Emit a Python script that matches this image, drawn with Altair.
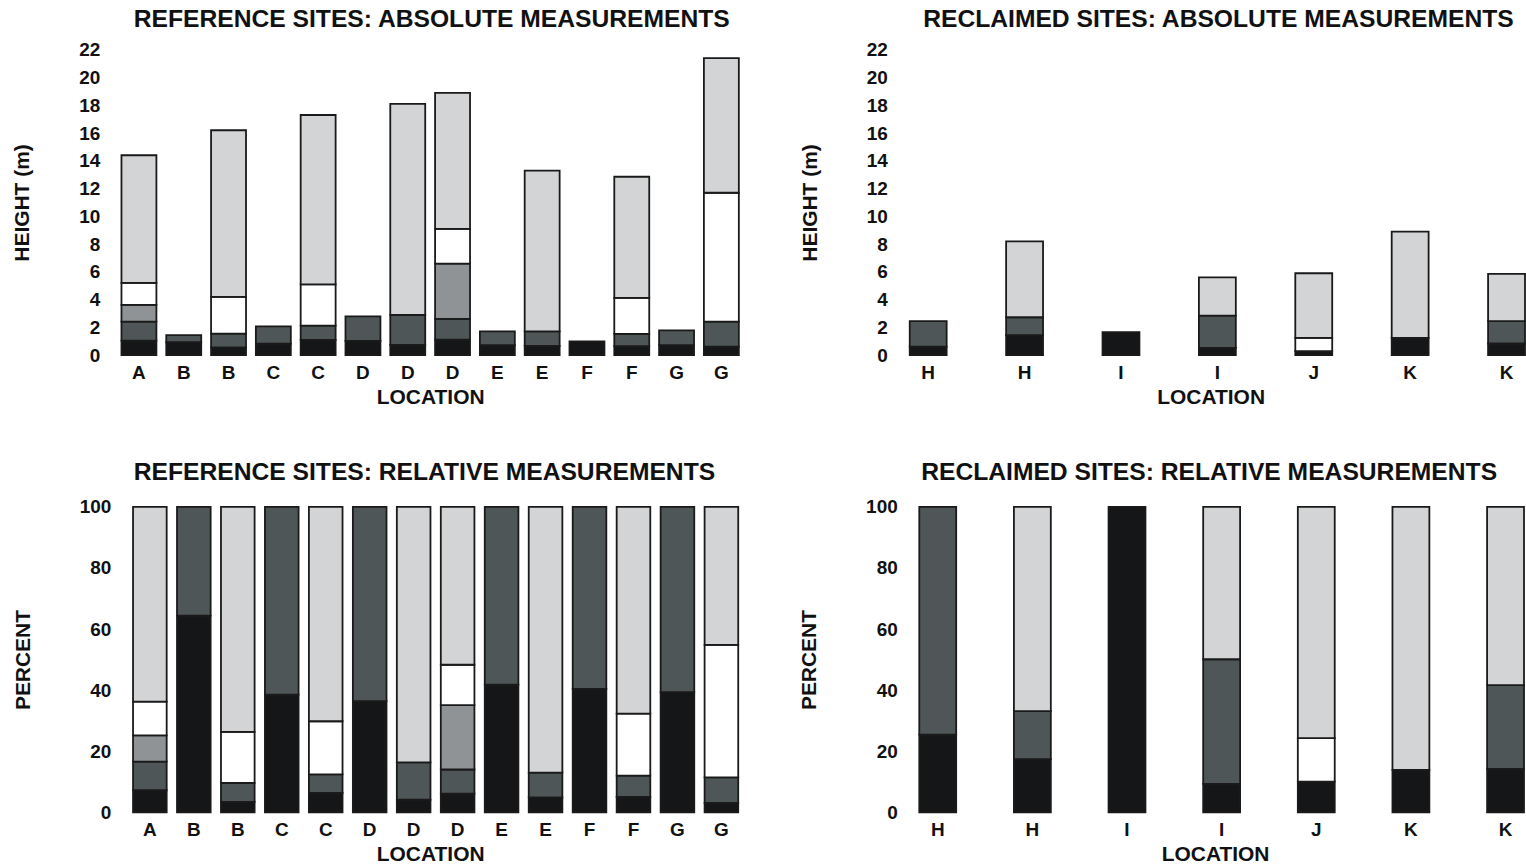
import altair as alt
import pandas as pd

# ---- data -------------------------------------------------------------
LAYERS = ["layer1", "layer2", "layer3", "layer4", "layer5"]

ref_labels = ["A", "B", "B", "C", "C", "D", "D", "D", "E", "E", "F", "F", "G", "G"]
rec_labels = ["H", "H", "I", "I", "J", "K", "K"]

# absolute heights (m) of each stratum, bottom to top
ref_abs_l1 = [1.05, 0.93, 0.56, 0.82, 1.10, 1.02, 0.73, 1.12, 0.72, 0.67, 0.99, 0.65, 0.72, 0.62]
ref_abs_l2 = [1.37, 0.52, 0.99, 1.25, 1.02, 1.78, 2.17, 1.50, 0.99, 1.04, 0.00, 0.88, 1.06, 1.80]
ref_abs_l3 = [1.20, 0.00, 0.00, 0.00, 0.00, 0.00, 0.00, 3.98, 0.00, 0.00, 0.00, 0.00, 0.00, 0.00]
ref_abs_l4 = [1.58, 0.00, 2.65, 0.00, 2.98, 0.00, 0.00, 2.50, 0.00, 0.00, 0.00, 2.59, 0.00, 9.28]
ref_abs_l5 = [9.20, 0.00, 12.00, 0.00, 12.20, 0.00, 15.20, 9.80, 0.00, 11.59, 0.00, 8.73, 0.00, 9.70]

# relative share (%) of each stratum
ref_rel_l1 = [7.2, 64.4, 3.4, 38.5, 6.3, 36.4, 4.1, 6.1, 41.8, 4.9, 40.4, 5.0, 39.3, 3.1]
ref_rel_l2 = [9.4, 35.6, 6.2, 61.5, 6.1, 63.6, 12.2, 7.9, 58.2, 8.1, 59.6, 7.0, 60.7, 8.3]
ref_rel_l3 = [8.6, 0.0, 0.0, 0.0, 0.0, 0.0, 0.0, 21.1, 0.0, 0.0, 0.0, 0.0, 0.0, 0.0]
ref_rel_l4 = [11.0, 0.0, 16.7, 0.0, 17.4, 0.0, 0.0, 13.2, 0.0, 0.0, 0.0, 20.3, 0.0, 43.4]
ref_rel_l5 = [63.8, 0.0, 73.7, 0.0, 70.2, 0.0, 83.7, 51.7, 0.0, 87.0, 0.0, 67.7, 0.0, 45.2]

rec_abs_l1 = [0.62, 1.44, 1.65, 0.53, 0.29, 1.25, 0.84]
rec_abs_l2 = [1.83, 1.29, 0.00, 2.32, 0.00, 0.00, 1.61]
rec_abs_l3 = [0.00, 0.00, 0.00, 0.00, 0.00, 0.00, 0.00]
rec_abs_l4 = [0.00, 0.00, 0.00, 0.00, 0.96, 0.00, 0.00]
rec_abs_l5 = [0.00, 5.47, 0.00, 2.75, 4.65, 7.65, 3.40]

rec_rel_l1 = [25.4, 17.4, 100.0, 9.3, 10.0, 13.9, 14.2]
rec_rel_l2 = [74.6, 15.7, 0.0, 40.8, 0.0, 0.0, 27.4]
rec_rel_l3 = [0.0, 0.0, 0.0, 0.0, 0.0, 0.0, 0.0]
rec_rel_l4 = [0.0, 0.0, 0.0, 0.0, 14.3, 0.0, 0.0]
rec_rel_l5 = [0.0, 66.9, 0.0, 49.9, 75.7, 86.1, 58.4]

BLACK = "#141617"
SLATE = "#303637"
DARK = "#4f5657"
MID = "#8f9395"
WHITE = "#ffffff"
LIGHT = "#d3d4d6"
EDGE = "#1a1a1a"

FONT = "Liberation Sans"


def long_table(labels, layer_values):
    rows = []
    for i, lab in enumerate(labels):
        for k, vals in enumerate(layer_values):
            if vals[i] > 0:
                rows.append({"slot": f"{lab}_{i}", "layer": LAYERS[k],
                             "order": k, "value": vals[i]})
    return pd.DataFrame(rows)


def panel(title, labels, layer_values, ymax, ystep, ytitle, width, height,
          pad_inner, pad_outer, align, colors, title_dx, title_offset, y_offset=0):
    df = long_table(labels, layer_values)
    slots = [f"{lab}_{i}" for i, lab in enumerate(labels)]
    return alt.Chart(df).mark_bar(stroke=EDGE, strokeWidth=1.8).encode(
        x=alt.X("slot:N", sort=slots,
                scale=alt.Scale(paddingInner=pad_inner, paddingOuter=pad_outer, align=align),
                axis=alt.Axis(title="LOCATION", labelExpr="split(datum.label, '_')[0]",
                              labelAngle=0, ticks=False, domain=False, labelPadding=8,
                              titlePadding=4)),
        y=alt.Y("value:Q", stack="zero",
                scale=alt.Scale(domain=[0, ymax], nice=False, zero=True),
                axis=alt.Axis(title=ytitle, values=list(range(0, ymax + 1, ystep)),
                              ticks=False, domain=False, grid=False, labelPadding=9,
                              titlePadding=46, offset=y_offset)),
        color=alt.Color("layer:N", scale=alt.Scale(domain=LAYERS, range=colors), legend=None),
        order=alt.Order("order:Q"),
    ).properties(
        width=width, height=height,
        title=alt.TitleParams(title, anchor="start", frame="group", dx=title_dx,
                              offset=title_offset),
    )


ref_colors = [BLACK, DARK, MID, WHITE, LIGHT]
rec_abs_colors = [SLATE, DARK, MID, WHITE, LIGHT]

tl = panel("REFERENCE SITES: ABSOLUTE MEASUREMENTS", ref_labels,
           [ref_abs_l1, ref_abs_l2, ref_abs_l3, ref_abs_l4, ref_abs_l5],
           22, 2, "HEIGHT (m)", 644, 306, 0.22, 0.283, 0.5, ref_colors, 25, 9)
tr = panel("RECLAIMED SITES: ABSOLUTE MEASUREMENTS", rec_labels,
           [rec_abs_l1, rec_abs_l2, rec_abs_l3, rec_abs_l4, rec_abs_l5],
           22, 2, "HEIGHT (m)", 630, 306, 0.617, 0.07, 1.0, rec_abs_colors, 27, 9)
bl = panel("REFERENCE SITES: RELATIVE MEASUREMENTS", ref_labels,
           [ref_rel_l1, ref_rel_l2, ref_rel_l3, ref_rel_l4, ref_rel_l5],
           100, 20, "PERCENT", 644, 306, 0.235, 0.427, 0.646, ref_colors, 25, 13, -11)
br = panel("RECLAIMED SITES: RELATIVE MEASUREMENTS", rec_labels,
           [rec_rel_l1, rec_rel_l2, rec_rel_l3, rec_rel_l4, rec_rel_l5],
           100, 20, "PERCENT", 619, 306, 0.61, 0.069, 1.0, ref_colors, 15, 13)

chart = alt.concat(
    tl, tr, bl, br, columns=2,
    align={"row": "all", "column": "none"},
    spacing={"row": 53, "column": 47},
).properties(
    padding={"left": 11, "top": 6, "right": 0, "bottom": 0},
).configure(
    font=FONT,
).configure_view(
    stroke=None,
).configure_axis(
    labelFont=FONT, labelFontSize=19, labelFontWeight="bold", labelColor="#111111",
    titleFont=FONT, titleFontSize=21, titleFontWeight="bold", titleColor="#111111",
).configure_title(
    font=FONT, fontSize=24.7, fontWeight="bold", color="#111111",
)

chart.save("out.html", embed_options={"renderer": "svg", "actions": False})
